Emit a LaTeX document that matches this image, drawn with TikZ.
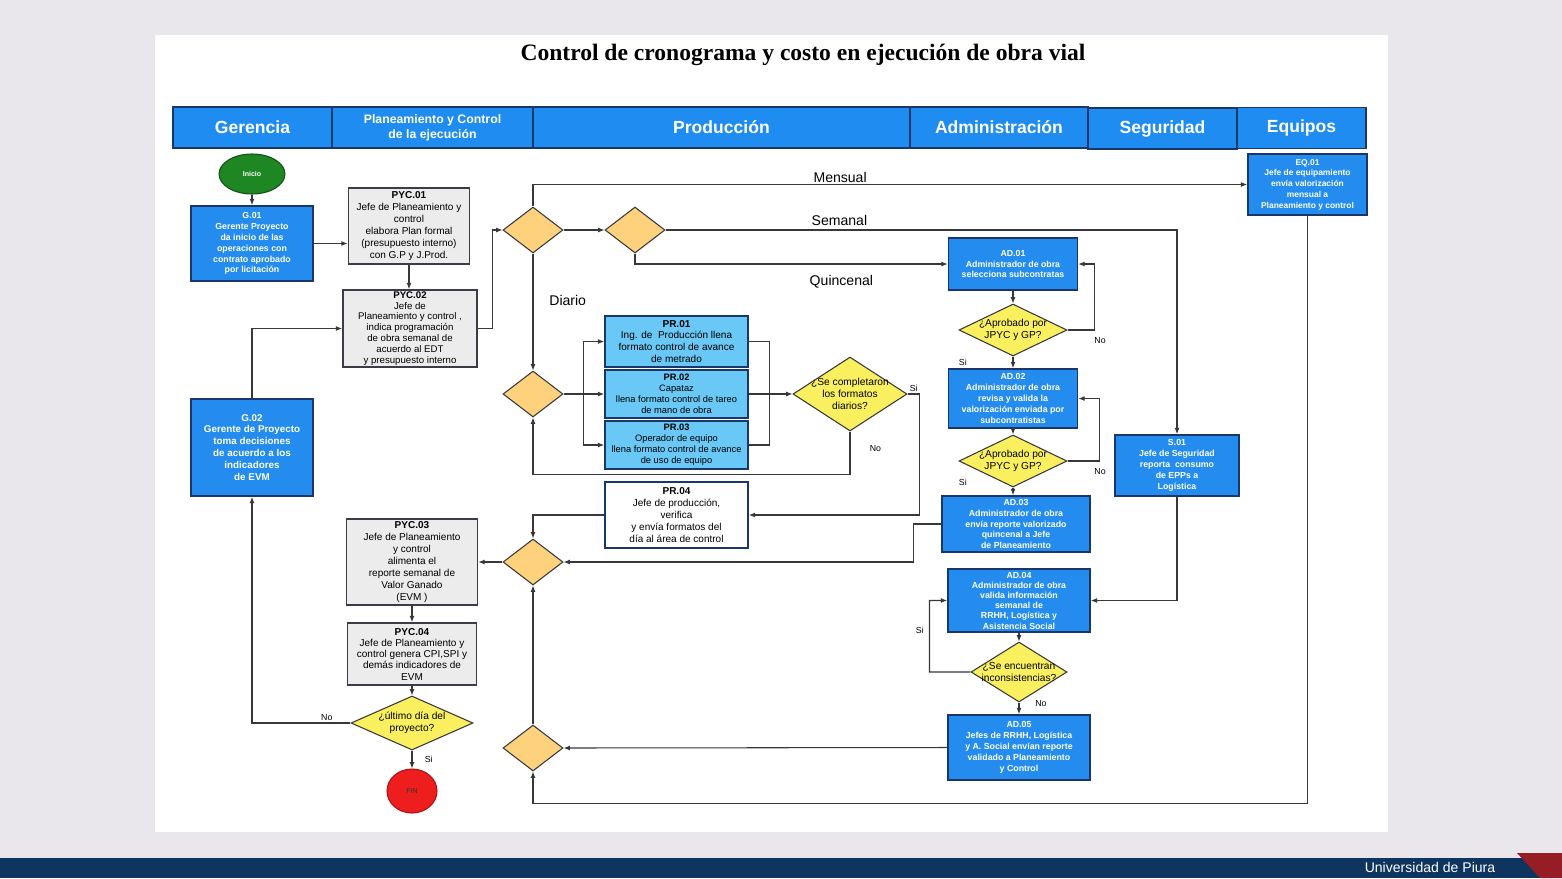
\documentclass[tikz,border=0pt]{standalone}
\usepackage{fontspec}
\setmainfont{Liberation Sans}
\newfontfamily\titlefont{Liberation Serif}
\usetikzlibrary{shapes.geometric,arrows.meta,positioning}

\definecolor{fondo}{RGB}{233,230,236}
\definecolor{azulcab}{RGB}{30,140,240}
\definecolor{azulcaja}{RGB}{35,140,238}
\definecolor{bordeazul}{RGB}{25,55,105}
\definecolor{celeste}{RGB}{105,200,245}
\definecolor{grisclaro}{RGB}{236,236,236}
\definecolor{bordegris}{RGB}{60,60,70}
\definecolor{naranja}{RGB}{254,210,125}
\definecolor{amarillo}{RGB}{250,240,95}
\definecolor{verde}{RGB}{30,135,35}
\definecolor{rojofin}{RGB}{238,30,30}
\definecolor{linea}{RGB}{55,55,60}
\definecolor{barra}{RGB}{14,52,96}
\definecolor{rojopie}{RGB}{150,28,38}

\newcommand{\grisfont}{\fontsize{5.7}{6.8}\selectfont}
\newcommand{\azulfont}{\bfseries\fontsize{5}{6.2}\selectfont}
\newcommand{\decfont}{\fontsize{5.8}{6.8}\selectfont}

\begin{document}
\begin{tikzpicture}[x=0.2mm, y=-0.2mm,
  >={Latex[length=3.6pt,width=2.8pt]},
  every path/.style={draw=linea, line width=0.6pt},
  carril/.style={draw=bordeazul, fill=azulcab, text=white, font=\bfseries\fontsize{10}{12}\selectfont, minimum height=8.2mm, inner sep=0pt, align=center, line width=0.8pt},
  cajaazul/.style={draw=bordeazul, fill=azulcaja, text=white, font=\azulfont, align=center, inner sep=0pt, line width=0.9pt},
  cajagris/.style={draw=bordegris, fill=grisclaro, font=\grisfont, align=center, inner sep=0pt, line width=0.9pt},
  cajapr/.style={draw=bordeazul, fill=celeste, font=\grisfont, align=center, inner sep=0pt, line width=0.9pt},
  rombo/.style={diamond, draw=linea, fill=naranja, inner sep=0pt, minimum width=12mm, minimum height=9.2mm},
  decision/.style={diamond, draw=linea, fill=amarillo, inner sep=0pt},
  nota/.style={font=\fontsize{5}{6}\selectfont, inner sep=1pt},
  flujo/.style={font=\fontsize{8}{9}\selectfont, inner sep=1pt}
]
\fill[fondo, draw=none] (0,0) rectangle (1562,878);
\path[draw=none, use as bounding box] (0,0) rectangle (1562,878);
\fill[white, draw=none] (155,35) rectangle (1388,832);
\fill[barra, draw=none] (0,858) rectangle (1562,878);
\fill[rojopie, draw=none] (1517,853) -- (1562,853) -- (1562,878) -- (1540,878) -- cycle;
\node[text=white, font=\fontsize{8}{9}\selectfont] (pie) at (1430,867) {Universidad de Piura};

\node[font=\titlefont\bfseries\fontsize{13.4}{15}\selectfont] (titulo) at (803,55) {Control de cronograma y costo en ejecución de obra vial};

\node[carril, minimum width=31.8mm] (lgerencia) at (252.5,127.5) {Gerencia};
\node[carril, minimum width=40.2mm, font=\bfseries\fontsize{7}{8.4}\selectfont] (lplan) at (432.5,127.5) {Planeamiento y Control\\de la ejecución};
\node[carril, minimum width=75.4mm] (lprod) at (721.5,127.5) {Producción};
\node[carril, minimum width=35.6mm] (ladm) at (999,127.5) {Administración};
\node[carril, minimum width=29.8mm] (lseg) at (1162.5,128.5) {Seguridad};
\node[carril, minimum width=25.8mm] (lequ) at (1301.5,128) {Equipos};

\node[ellipse, draw=verde!60!black, fill=verde, text=white, font=\bfseries\fontsize{4}{5}\selectfont, minimum width=13.2mm, minimum height=8mm] (inicio) at (252,174) {Inicio};
\node[cajaazul, minimum width=24.4mm, minimum height=15mm] (g1) at (252,243.5) {G.01\\Gerente Proyecto\\da inicio de las\\operaciones con\\contrato aprobado\\por licitación};
\node[cajaazul, minimum width=24.4mm, minimum height=19.4mm, font=\bfseries\fontsize{5.6}{6.8}\selectfont] (g2) at (252,447.5) {G.02\\Gerente de Proyecto\\toma decisiones\\de acuerdo a los\\indicadores\\de EVM};

\node[cajagris, minimum width=24.2mm, minimum height=15.2mm] (pyc1) at (409,226) {\textbf{PYC.01}\\Jefe de Planeamiento y\\control\\elabora Plan formal\\(presupuesto interno)\\con G.P y J.Prod.};
\node[cajagris, minimum width=26.8mm, minimum height=15.4mm, font=\fontsize{5.5}{6.2}\selectfont] (pyc2) at (410,328.5) {\textbf{PYC.02}\\Jefe de\\Planeamiento y control ,\\indica programación\\de obra semanal de\\acuerdo al EDT\\y presupuesto interno};
\node[cajagris, minimum width=26.2mm, minimum height=17.2mm] (pyc3) at (412,562) {\textbf{PYC.03}\\Jefe de Planeamiento\\y control\\alimenta el\\reporte semanal de\\Valor Ganado\\(EVM )};
\node[cajagris, minimum width=25.8mm, minimum height=12.4mm, font=\fontsize{5.7}{6.4}\selectfont] (pyc4) at (412,654) {\textbf{PYC.04}\\Jefe de Planeamiento y\\control genera CPI,SPI y\\demás indicadores de\\EVM};
\node[decision, minimum width=24.4mm, minimum height=10.8mm, label={[align=center, font=\decfont]center:¿último día del\\proyecto?}] (dfin) at (412,723) {};
\node[ellipse, draw=rojofin!70!black, fill=rojofin, font=\fontsize{4}{5}\selectfont, text=black!80, minimum width=10mm, minimum height=8.8mm] (fin) at (412,791) {FIN};

\node[rombo] (d1) at (533,230) {};
\node[rombo] (d2) at (635,230) {};
\node[rombo] (d3) at (533,394) {};
\node[rombo] (d4) at (533,562) {};
\node[rombo] (d5) at (533,748) {};

\node[cajapr, minimum width=28.6mm, minimum height=10.2mm] (pr1) at (676.5,341.5) {\textbf{PR.01}\\Ing. de\ \ Producción llena\\formato control de avance\\de metrado};
\node[cajapr, minimum width=28.6mm, minimum height=9.6mm, font=\fontsize{5.3}{6.3}\selectfont] (pr2) at (676.5,394) {\textbf{PR.02}\\Capataz\\llena formato control de tareo\\de mano de obra};
\node[cajapr, minimum width=28.6mm, minimum height=9.6mm, font=\fontsize{5.3}{6.3}\selectfont] (pr3) at (676.5,445) {\textbf{PR.03}\\Operador de equipo\\llena formato control de avance\\de uso de equipo};
\node[cajapr, fill=white, minimum width=28.6mm, minimum height=13.2mm] (pr4) at (676.5,515) {\textbf{PR.04}\\Jefe de producción,\\verifica\\y envía formatos del\\día al área de control};
\node[decision, minimum width=22.8mm, minimum height=14.8mm, label={[align=center, font=\decfont]center:¿Se completaron\\los formatos\\diarios?}] (dcomp) at (850,394) {};

\node[cajaazul, minimum width=25.8mm, minimum height=10.4mm] (ad1) at (1013,264) {AD.01\\Administrador de obra\\selecciona subcontratas};
\node[decision, minimum width=21.6mm, minimum height=10.4mm, label={[align=center, font=\decfont]center:¿Aprobado por\\JPYC y GP?}] (da1) at (1013,330) {};
\node[cajaazul, minimum width=25.8mm, minimum height=11.8mm] (ad2) at (1013,398.5) {AD.02\\Administrador de obra\\revisa y valida la\\valorización enviada por\\subcontratistas};
\node[decision, minimum width=21.6mm, minimum height=10.4mm, label={[align=center, font=\decfont]center:¿Aprobado por\\JPYC y GP?}] (da2) at (1013,461) {};
\node[cajaazul, minimum width=29.6mm, minimum height=11.2mm] (ad3) at (1016,524) {AD.03\\Administrador de obra\\envía reporte valorizado\\quincenal a Jefe\\de Planeamiento};
\node[cajaazul, minimum width=28.4mm, minimum height=12.6mm, font=\bfseries\fontsize{5}{5.8}\selectfont] (ad4) at (1019,600.5) {AD.04\\Administrador de obra\\valida información\\semanal de\\RRHH, Logística y\\Asistencia Social};
\node[decision, minimum width=19.2mm, minimum height=12mm, label={[align=center, font=\decfont]center:¿Se encuentran\\inconsistencias?}] (dinc) at (1019,672) {};
\node[cajaazul, minimum width=28.4mm, minimum height=13mm] (ad5) at (1019,747.5) {AD.05\\Jefes de RRHH, Logística\\y A. Social envían reporte\\validado a Planeamiento\\y Control};

\node[cajaazul, minimum width=24.8mm, minimum height=12.2mm] (s1) at (1177,465.5) {S.01\\Jefe de Seguridad\\reporta\ \ consumo\\de EPPs a\\Logística};
\node[cajaazul, minimum width=23.8mm, minimum height=12.2mm, font=\bfseries\fontsize{4.8}{6.1}\selectfont] (eq1) at (1307.5,184.5) {EQ.01\\Jefe de equipamiento\\envía valorización\\mensual a\\Planeamiento y control};

\draw[->] (inicio) -- (g1);
\draw[->] (g1.east) -- (g1.east -| pyc1.west);
\draw[->] (pyc1.south) -- (pyc1.south |- pyc2.north);
\draw[->] (pyc2.east) -- ++(15,0) |- (d1.west);
\draw[->] (g2.north) |- (pyc2.west);
\draw[->] (d1.north) |- (eq1.west) node[flujo, pos=0.715, above] {Mensual};
\draw[->] (d1.east) -- (d2.west);
\draw[->] (d2.east) -| (s1.north) node[flujo, pos=0.17, above=1pt] {Semanal};
\draw[->] (d2.south) |- (ad1.west) node[flujo, pos=0.83, below=5pt] {Quincenal};
\draw[->] (d1.south) -- (d3.north) node[flujo, pos=0.4, right=8pt] {Diario};
\draw (d3.east) -- ++(20,0) coordinate (bif);
\draw[->] (bif) |- (pr1.west);
\draw[->] (bif) -- (pr2.west);
\draw[->] (bif) |- (pr3.west);
\draw (pr1.east) -- ++(21,0) |- (pr3.east);
\draw[->] (pr2.east) -- (dcomp.west);
\draw[->] (dcomp.east) node[nota, above right] {Si} -- ++(12,0) |- (pr4.east);
\draw[->] (dcomp.south) -- ++(0,43) node[nota, pos=0.4, right=10pt] {No} -| (d3.south);
\draw[->] (pr4.west) -| (d4.north);
\draw[->] (d4.west) -- (pyc3.east);
\draw[->] (ad3.west) -- ++(-28,0) |- (d4.east);
\draw[->] (d5.north) -- (d4.south);
\draw[->] (ad5.west) -- (d5.east);
\draw[->] (eq1.south) -- ++(0,588) -| (d5.south);
\draw[->] (pyc3.south) -- (pyc4.north);
\draw[->] (pyc4.south) -- (dfin.north);
\draw[->] (dfin.south) -- (fin.north) node[nota, pos=0.5, right=6pt] {Si};
\draw[->] (dfin.west) -| (g2.south) node[nota, pos=0.12, above] {No};
\draw[->] (ad1.south) -- (da1.north);
\draw[->] (da1.east) node[nota, below right=3pt and 14pt] {No} -- ++(27,0) |- (ad1.east);
\draw[->] (da1.south) -- (ad2.north) node[nota, pos=0.5, left=25pt] {Si};
\draw[->] (ad2.south) -- (da2.north);
\draw[->] (da2.east) node[nota, below right=3pt and 14pt] {No} -- ++(32,0) |- (ad2.east);
\draw[->] (da2.south) -- (da2.south |- ad3.north) node[nota, pos=0, above left=0pt and 25pt] {Si};
\draw[->] (s1.south) |- (ad4.east);
\draw[->] (ad4.south) -- (dinc.north);
\draw[->] (dinc.west) -- ++(-41,0) -- ++(0,-71.5) node[nota, pos=0.58, left=2pt] {Si} -- (ad4.west);
\draw[->] (dinc.south) -- (ad5.north) node[nota, pos=0.1, right=8pt] {No};
\end{tikzpicture}
\end{document}
